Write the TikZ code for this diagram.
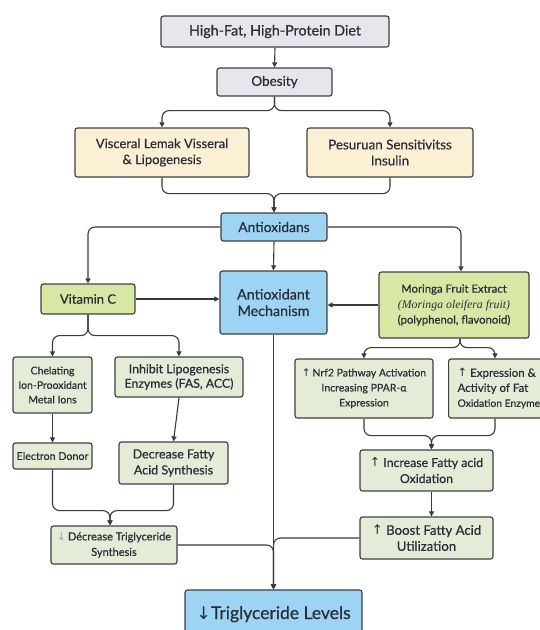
\documentclass[tikz,border=0pt]{standalone}
\usepackage{fontspec}
\setmainfont{Lato}[FakeBold=0.5]
\newfontfamily\arrowfont{DejaVu Sans}
\newfontfamily\latinfont{Liberation Serif}
\usetikzlibrary{arrows.meta}
\pgfdeclarelayer{edgelayer}
\pgfdeclarelayer{nodelayer}
\pgfsetlayers{main,edgelayer,nodelayer}
\definecolor{bordercol}{HTML}{3F4142}
\definecolor{linecol}{HTML}{3A3A3A}
\definecolor{textcol}{HTML}{2A2D38}
\definecolor{greyfill}{HTML}{E6E7EC}
\definecolor{yellowfill}{HTML}{FCF0D4}
\definecolor{bluefill}{HTML}{9DD3F3}
\definecolor{greenfill}{HTML}{D6E8A4}
\definecolor{palefill}{HTML}{E4EBD6}
\newcommand{\up}{{\arrowfont\char"2191}}
\newcommand{\down}{{\arrowfont\char"2193}}
\tikzset{font=\fontsize{13}{16}\selectfont}
\tikzstyle{box}=[draw=bordercol,line width=1.2pt,rounded corners=2.5pt,align=center,inner sep=1pt,text=textcol]
\tikzstyle{grey}=[box,fill=greyfill]
\tikzstyle{yellow}=[box,fill=yellowfill]
\tikzstyle{blue}=[box,fill=bluefill]
\tikzstyle{green}=[box,fill=greenfill]
\tikzstyle{pale}=[box,fill=palefill,font=\fontsize{10.5}{15}\selectfont]
\tikzstyle{edge}=[draw=linecol,line width=1.1pt,rounded corners=7pt]
\tikzstyle{arrow}=[edge,-{Triangle[length=5pt,width=5pt]}]

\begin{document}
\begin{tikzpicture}[x=1pt,y=-1pt]
	\useasboundingbox[fill=white] (0,0) rectangle (539,630);
	\begin{pgfonlayer}{nodelayer}
		\node [style=grey,minimum width=228pt,minimum height=31pt,font=\fontsize{14.3}{17}\selectfont] (0) at (275,31.5) {High-Fat, High-Protein Diet};
		\node [style=grey,minimum width=115pt,minimum height=28pt,font=\fontsize{13.5}{16}\selectfont] (1) at (274.5,82) {Obesity};
		\node [style=yellow,minimum width=174pt,minimum height=49pt] (2) at (162,152.5) {Visceral Lemak Visseral\\\& Lipogenesis};
		\node [style=yellow,minimum width=166pt,minimum height=49pt,font=\fontsize{13.4}{16}\selectfont] (3) at (390,152.5) {Pesuruan Sensitivitss\\Insulin};
		\node [style=blue,minimum width=106pt,minimum height=28pt,font=\fontsize{13.8}{16}\selectfont] (4) at (274,227) {Antioxidans};
		\node [style=green,minimum width=94pt,minimum height=30pt] (5) at (88,299) {Vitamin C};
		\node [style=blue,minimum width=107pt,minimum height=63pt,font=\fontsize{14.3}{16.5}\selectfont] (6) at (273.5,302.5) {Antioxidant\\Mechanism};
		\node [style=green,minimum width=150pt,minimum height=66pt,font=\fontsize{11.3}{15.5}\selectfont] (7) at (454,305) {Moringa Fruit Extract\\{\latinfont\itshape\fontsize{11.8}{15.5}\selectfont (Moringa oleifera fruit)}\\(polyphenol, flavonoid)};
		\node [style=pale,minimum width=79pt,minimum height=56pt,font=\fontsize{10.5}{14.5}\selectfont] (8) at (52.5,385) {Chelating\\Ion-Prooxidant\\Metal Ions};
		\node [style=pale,minimum width=128pt,minimum height=40pt,font=\fontsize{12.3}{14.5}\selectfont] (9) at (179,377) {Inhibit Lipogenesis\\Enzymes (FAS, ACC)};
		\node [style=pale,minimum width=138pt,minimum height=59pt] (10) at (364,388.5) {\up\,Nrf2 Pathway Activation\\Increasing PPAR-α\\Expression};
		\node [style=pale,anchor=west,align=left,inner xsep=9pt,minimum height=59pt,font=\fontsize{11.5}{15}\selectfont] (11) at (448,388.5) {\up\ Expression \&\\Activity of Fat\\{\fontsize{10.3}{12}\selectfont Oxidation Enzymes}};
		\node [style=pale,minimum width=79pt,minimum height=26pt,font=\fontsize{10.7}{12}\selectfont] (12) at (52.5,456) {Electron Donor};
		\node [style=pale,minimum width=109pt,minimum height=42pt,font=\fontsize{12.5}{16}\selectfont] (13) at (173.5,463) {Decrease Fatty\\Acid Synthesis};
		\node [style=pale,minimum width=126pt,minimum height=38pt,font=\fontsize{11}{15.5}\selectfont] (14) at (114,545) {{\color{black!35}\down}\,Décrease Triglyceride\\Synthesis};
		\node [style=pale,minimum width=133pt,minimum height=41pt,font=\fontsize{12.3}{16}\selectfont] (15) at (426.5,470.5) {\up\ Increase Fatty acid\\Oxidation};
		\node [style=pale,minimum width=133pt,minimum height=42pt,font=\fontsize{13.2}{16}\selectfont] (16) at (426.5,538) {\up\ Boost Fatty Acid\\Utilization};
		\node [style=blue,minimum width=177pt,text height=28pt,text depth=30pt,font=\fontsize{17.5}{20}\selectfont] (17) at (273.5,620) {\down Triglyceride Levels};
	\end{pgfonlayer}
	\begin{pgfonlayer}{edgelayer}
		\draw [style=arrow] (0.south) to (1.north);
		\draw [style=arrow] (1.south) -- ++(0,14) -| (2.north);
		\draw [style=arrow] (1.south) -- ++(0,14) -| (3.north);
		\draw [style=arrow] (2.south) -- ++(0,16) -| (4.north);
		\draw [style=arrow] (3.south) -- ++(0,16) -| (4.north);
		\draw [style=arrow] (4.west) -| (5.north);
		\draw [style=arrow] (4.east) -| ([xshift=7pt]7.north);
		\draw [style=arrow] (4.south) to (6.north);
		\draw [style=arrow] (5.east) to (5.east -| 6.west);
		\draw [style=arrow] (7.west) to (7.west -| 6.east);
		\draw [style=arrow] (5.south) -- ++(0,21) -| (8.north);
		\draw [style=arrow] (5.south) -- ++(0,21) -| (9.north);
		\draw [style=arrow] (8.south) to (12.north);
		\draw [style=arrow] (9.south) to (13.north);
		\draw [style=arrow] (12.south) -- ++(0,41) -| ([xshift=-4pt]14.north);
		\draw [style=arrow] (13.south) -- ++(0,26) -| ([xshift=-4pt]14.north);
		\draw [style=arrow] ([xshift=6pt]7.south) -- ++(0,9) -| (10.north);
		\draw [style=arrow] ([xshift=6pt]7.south) -- ++(0,9) -| ([xshift=47pt]11.north west);
		\draw [style=arrow] (10.south) -- ++(0,17) -| ([xshift=5pt]15.north);
		\draw [style=arrow] ([xshift=47pt]11.south west) -- ++(0,17) -| ([xshift=5pt]15.north);
		\draw [style=arrow] ([xshift=5pt]15.south) to ([xshift=5pt]16.north);
		\draw [style=arrow] (6.south) to (17.north);
		\draw [style=arrow] (14.east) -| (17.north);
		\draw [style=arrow] (16.west) -| (17.north);
	\end{pgfonlayer}
\end{tikzpicture}
\end{document}
